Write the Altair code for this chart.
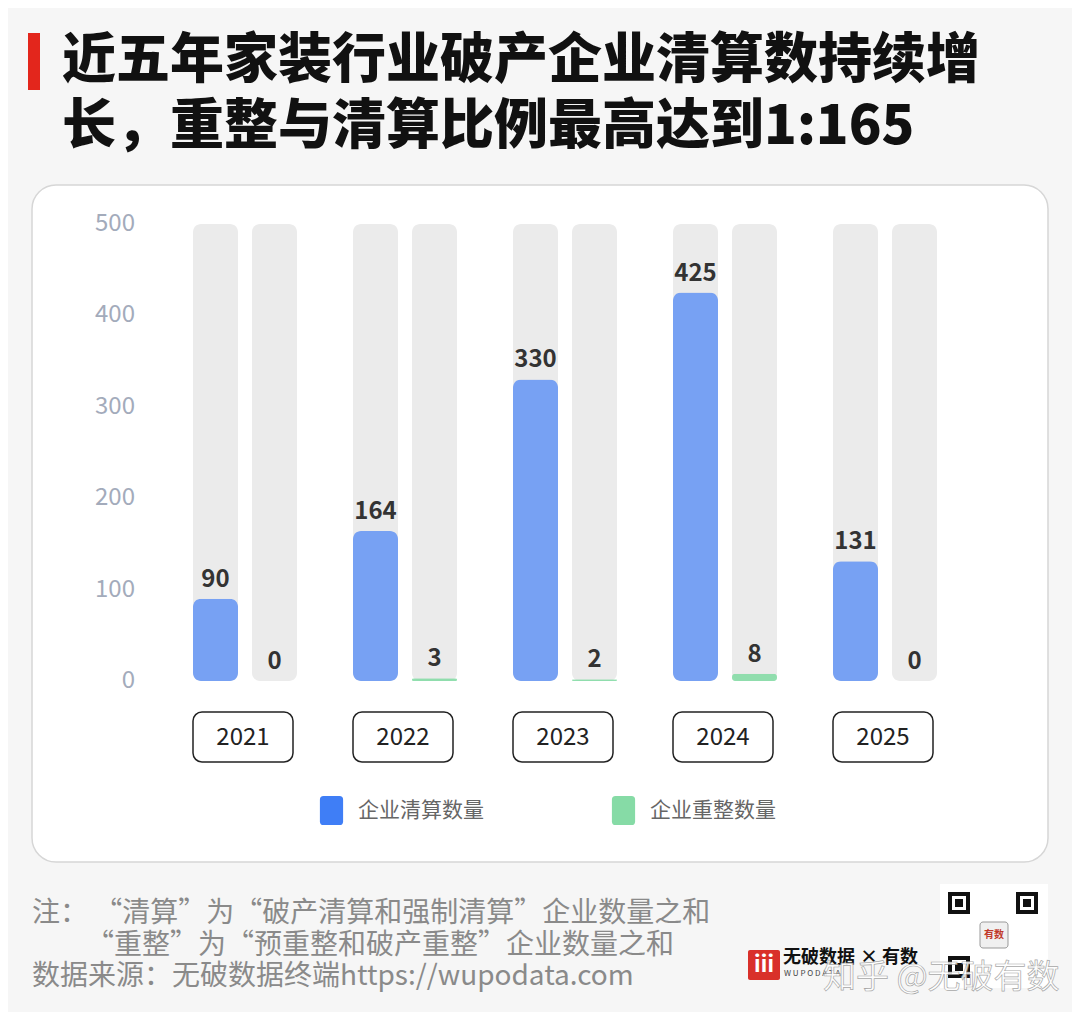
import altair as alt
import pandas as pd

# ---------------- data ----------------
years = [2021, 2022, 2023, 2024, 2025]
year_labels = ["2021", "2022", "2023", "2024", "2025"]
liquidation = [90, 164, 330, 425, 131]
reorganization = [0, 3, 2, 8, 0]
axis_ticks = [0, 100, 200, 300, 400, 500]
axis_max = 500
series = ["企业清算数量", "企业重整数量"]
series_colors = ["#3f7ef6", "#86dba6"]
title_lines = ["近五年家装行业破产企业清算数持续增", "长，重整与清算比例最高达到1:165"]
note_lines = [
    "注：   “清算”为“破产清算和强制清算”企业数量之和",
    "“重整”为“预重整和破产重整”企业数量之和",
    "数据来源：无破数据终端https://wupodata.com",
]
brand_text = "无破数据"
brand_sub = "W U P O D A T A"
brand_partner = "× 有数"
watermark = "知乎 @无破有数"

FONT = "Noto Sans CJK SC"

bars = pd.DataFrame({
    "year": years * 2,
    "value": liquidation + reorganization,
    "series": [series[0]] * len(years) + [series[1]] * len(years),
})
bg = pd.DataFrame({"year": years, "value": [axis_max] * len(years)})
yl = pd.DataFrame({"year": years, "label": year_labels})
ticks = pd.DataFrame({"value": axis_ticks, "label": [str(t) for t in axis_ticks]})
one = pd.DataFrame({"a": [0]})

xs = alt.Scale(domain=[2020, 2026], range=[77, 1037], nice=False, zero=False, padding=0)
ys = alt.Scale(domain=[0, axis_max], range=[673, 216], nice=False)
X = alt.X("year:Q", scale=xs, axis=None)
Y = alt.Y("value:Q", scale=ys, axis=None)

rr_path = ("M -0.55,-1 L 0.55,-1 Q 0.8,-1 0.8,-0.75 L 0.8,0.75 Q 0.8,1 0.55,1 "
           "L -0.55,1 Q -0.8,1 -0.8,0.75 L -0.8,-0.75 Q -0.8,-1 -0.55,-1 Z")
color = alt.Color(
    "series:N",
    scale=alt.Scale(domain=series, range=series_colors),
    legend=alt.Legend(
        orient="none", legendX=309, legendY=788, direction="horizontal",
        title=None, symbolType=rr_path, symbolSize=841, symbolOpacity=1,
        symbolStrokeWidth=0, labelFont=FONT, labelFontSize=21,
        labelColor="#666666", labelOffset=12, columnPadding=125, padding=0,
    ),
)

panel = alt.Chart(one).mark_rect(
    fill="white", stroke="#d6d6d6", strokeWidth=1.5, cornerRadius=24
).encode(x=alt.value(24), x2=alt.value(1040), y=alt.value(177), y2=alt.value(854))

OFF = 29.5
bg_l = alt.Chart(bg).mark_bar(orient="vertical", width=45, xOffset=-OFF, color="#ebebeb",
                              cornerRadius=8).encode(x=X, y=Y)
bg_r = alt.Chart(bg).mark_bar(orient="vertical", width=45, xOffset=OFF, color="#ebebeb",
                              cornerRadius=8).encode(x=X, y=Y)

liq = alt.Chart(bars).transform_filter(alt.datum.series == series[0]).mark_bar(
    orient="vertical", width=45, xOffset=-OFF, cornerRadius=8, opacity=0.68
).encode(x=X, y=Y, color=color)
reo = alt.Chart(bars).transform_filter(alt.datum.series == series[1]).mark_bar(
    orient="vertical", width=45, xOffset=OFF, cornerRadius=3, opacity=0.9
).encode(x=X, y=Y, color=color)

lab_l = alt.Chart(bars).transform_filter(alt.datum.series == series[0]).mark_text(
    xOffset=-OFF, dy=-12, baseline="alphabetic", fontSize=24, fontWeight="bold",
    color="#333333", font=FONT
).encode(x=X, y=Y, text="value:Q")
lab_r = alt.Chart(bars).transform_filter(alt.datum.series == series[1]).mark_text(
    xOffset=OFF, dy=-12, baseline="alphabetic", fontSize=24, fontWeight="bold",
    color="#333333", font=FONT
).encode(x=X, y=Y, text="value:Q")

ybox = alt.Chart(yl).mark_bar(
    orient="vertical", width=100, xOffset=-2, fill="white", stroke="#222222",
    strokeWidth=1.5, cornerRadius=9
).encode(x=X, y=alt.value(704), y2=alt.value(754))
ytext = alt.Chart(yl).mark_text(
    xOffset=-2, baseline="middle", fontSize=24, color="#222222", font=FONT
).encode(x=X, y=alt.value(730), text="label:N")

tick_text = alt.Chart(ticks).mark_text(
    align="right", baseline="middle", fontSize=24, color="#a3abbb", font=FONT
).encode(x=alt.value(127), y=Y, text="label:N")

red_bar = alt.Chart(one).mark_rect(fill="#e3261c").encode(
    x=alt.value(20), x2=alt.value(32), y=alt.value(25), y2=alt.value(82))

def txt(s, x, y, size, color, weight="normal", align="left", **kw):
    return alt.Chart(one).mark_text(
        text=s, align=align, baseline="middle", fontSize=size, color=color,
        fontWeight=weight, font=FONT, **kw
    ).encode(x=alt.value(x), y=alt.value(y))

title1 = txt(title_lines[0], 54, 54, 54, "#111111", weight=900)
title2 = txt(title_lines[1], 54, 120, 54, "#111111", weight=900)

note1 = txt(note_lines[0], 24, 906, 28, "#8a8a8a")
note2 = txt(note_lines[1], 78, 938, 28, "#8a8a8a")
note3 = txt(note_lines[2], 24, 969, 28, "#8a8a8a")

# brand block (bottom right)
logo_sq = alt.Chart(one).mark_rect(fill="#d9302a", cornerRadius=2).encode(
    x=alt.value(740), x2=alt.value(772), y=alt.value(942), y2=alt.value(972))
logo_in = txt("ⅲ", 756, 957, 22, "white", weight="bold", align="center")
brand1 = txt(brand_text, 775, 950, 18, "#111111", weight="bold")
brand2 = txt(brand_sub, 776, 966, 8, "#444444")
brand3 = txt(brand_partner, 852, 950, 18, "#111111", weight="bold")

qr_bg = alt.Chart(one).mark_rect(fill="white").encode(
    x=alt.value(932), x2=alt.value(1040), y=alt.value(876), y2=alt.value(980))
qr_parts = []
for (qx, qy) in [(940, 884), (1008, 884), (940, 948)]:
    qr_parts.append(alt.Chart(one).mark_rect(fill="#111111").encode(
        x=alt.value(qx), x2=alt.value(qx + 22), y=alt.value(qy), y2=alt.value(qy + 22)))
    qr_parts.append(alt.Chart(one).mark_rect(fill="white").encode(
        x=alt.value(qx + 4), x2=alt.value(qx + 18), y=alt.value(qy + 4), y2=alt.value(qy + 18)))
    qr_parts.append(alt.Chart(one).mark_rect(fill="#111111").encode(
        x=alt.value(qx + 7), x2=alt.value(qx + 15), y=alt.value(qy + 7), y2=alt.value(qy + 15)))
qr_mid = alt.Chart(one).mark_rect(fill="#f0f0f0", stroke="#999", cornerRadius=3).encode(
    x=alt.value(972), x2=alt.value(1000), y=alt.value(914), y2=alt.value(940))
qr_mid_t = txt("有数", 986, 927, 10, "#c0392b", weight="bold", align="center")

wm = txt(watermark, 815, 970, 33, "#ffffff", stroke="#9a9a9a", strokeWidth=0.7,
         opacity=0.85)

chart = alt.layer(
    panel, bg_l, bg_r, liq, reo, lab_l, lab_r, ybox, ytext, tick_text,
    red_bar, title1, title2, note1, note2, note3,
    logo_sq, logo_in, brand1, brand2, brand3, qr_bg, *qr_parts, qr_mid, qr_mid_t, wm,
).properties(
    width=1064, height=1004, background="#f6f6f6", padding=0,
    autosize=alt.AutoSizeParams(type="none"),
).configure_view(stroke=None)

chart.save("out.html", embed_options={"renderer": "svg", "actions": False})
